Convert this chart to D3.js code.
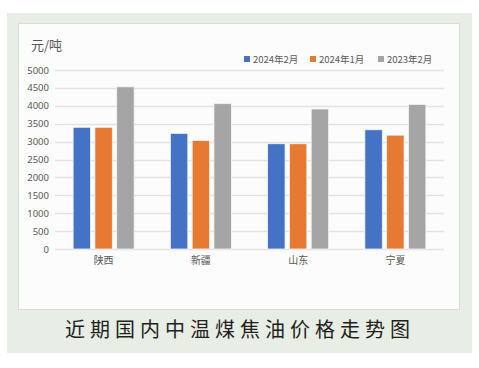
<!DOCTYPE html>
<meta charset="utf-8">
<style>
body { margin: 0; background: #fff; }
text { font-family: "Noto Sans CJK SC", "Noto Sans", sans-serif; }
</style>
<body>
<script src="https://d3js.org/d3.v7.min.js"></script>
<script>

// data
var regions = ["陕西", "新疆", "山东", "宁夏"];
var seriesNames = ["2024年2月", "2024年1月", "2023年2月"];
var feb2024 = [3400, 3230, 2940, 3330];
var jan2024 = [3400, 3030, 2940, 3180];
var feb2023 = [4530, 4060, 3910, 4040];
var yTicks = [0, 500, 1000, 1500, 2000, 2500, 3000, 3500, 4000, 4500, 5000];
var colors = ["#4472C4", "#E67A33", "#A5A5A5"];

var series = [feb2024, jan2024, feb2023];

var W = 479, H = 368;
var svg = d3.select("body").append("svg")
    .attr("width", W)
    .attr("height", H);

// green frame
svg.append("rect")
    .attr("x", 7).attr("y", 13)
    .attr("width", 465).attr("height", 340)
    .attr("fill", "#e8ede5");

// white panel
svg.append("rect")
    .attr("x", 18.5).attr("y", 23.5)
    .attr("width", 441).attr("height", 286)
    .attr("fill", "#fcfcfc")
    .attr("stroke", "#dcdcdc");

var margin = {left: 55, right: 444, top: 70, bottom: 249};

var x = d3.scaleBand()
    .domain(regions)
    .range([margin.left, margin.right]);

var x1 = d3.scaleBand()
    .domain(d3.range(series.length))
    .range([0, 61])
    .paddingInner(0.2);

var y = d3.scaleLinear()
    .domain([0, 5000])
    .range([margin.bottom, margin.top]);

// gridlines
svg.append("g")
  .selectAll("line")
  .data(yTicks)
  .join("line")
    .attr("x1", margin.left)
    .attr("x2", margin.right)
    .attr("y1", function(d) { return Math.round(y(d)) + 0.5; })
    .attr("y2", function(d) { return Math.round(y(d)) + 0.5; })
    .attr("stroke", "#e2e2e2")
    .attr("stroke-width", 1.5);

// y axis labels
var yAxis = svg.append("g")
    .attr("transform", "translate(" + margin.left + ",0)")
    .call(d3.axisLeft(y).tickValues(yTicks).tickFormat(d3.format("d")).tickSize(0).tickPadding(6));
yAxis.select(".domain").remove();
yAxis.selectAll("text")
    .attr("fill", "#595959")
    .style("font-size", "9.5px")
    .style("font-family", "'Noto Sans', sans-serif");

// bars
var groups = svg.append("g")
  .selectAll("g")
  .data(regions)
  .join("g")
    .attr("transform", function(d) {
      return "translate(" + (x(d) + x.bandwidth() / 2 - 30.5) + ",0)";
    });

groups.selectAll("rect")
  .data(function(d, i) {
    return series.map(function(s, k) { return {k: k, v: s[i]}; });
  })
  .join("rect")
    .attr("x", function(d) { return x1(d.k); })
    .attr("width", x1.bandwidth())
    .attr("y", function(d) { return y(d.v); })
    .attr("height", function(d) { return y(0) - y(d.v); })
    .attr("fill", function(d) { return colors[d.k]; })
    .attr("stroke", "#f4f4f4")
    .attr("stroke-width", 0.8);

// x axis labels
var xAxis = svg.append("g")
    .attr("transform", "translate(0," + margin.bottom + ")")
    .call(d3.axisBottom(x).tickSize(0).tickPadding(8));
xAxis.select(".domain").remove();
xAxis.selectAll("text")
    .attr("fill", "#595959")
    .style("font-size", "10px");

// unit label
svg.append("text")
    .attr("x", 31)
    .attr("y", 50)
    .attr("fill", "#595959")
    .style("font-size", "13px")
    .text("元/吨");

// legend
var legendX = [244, 310, 378];
var legend = svg.append("g")
  .selectAll("g")
  .data(seriesNames)
  .join("g")
    .attr("transform", function(d, i) { return "translate(" + legendX[i] + ",56)"; });

legend.append("rect")
    .attr("width", 6).attr("height", 6)
    .attr("fill", function(d, i) { return colors[i]; });

legend.append("text")
    .attr("x", 9)
    .attr("y", 6.5)
    .attr("fill", "#595959")
    .style("font-size", "9.5px")
    .text(function(d) { return d; });

// caption
svg.append("text")
    .attr("x", 240)
    .attr("y", 337)
    .attr("text-anchor", "middle")
    .attr("fill", "#231f20")
    .style("font-size", "20px")
    .style("letter-spacing", "5px")
    .text("近期国内中温煤焦油价格走势图");

</script>
</body>
